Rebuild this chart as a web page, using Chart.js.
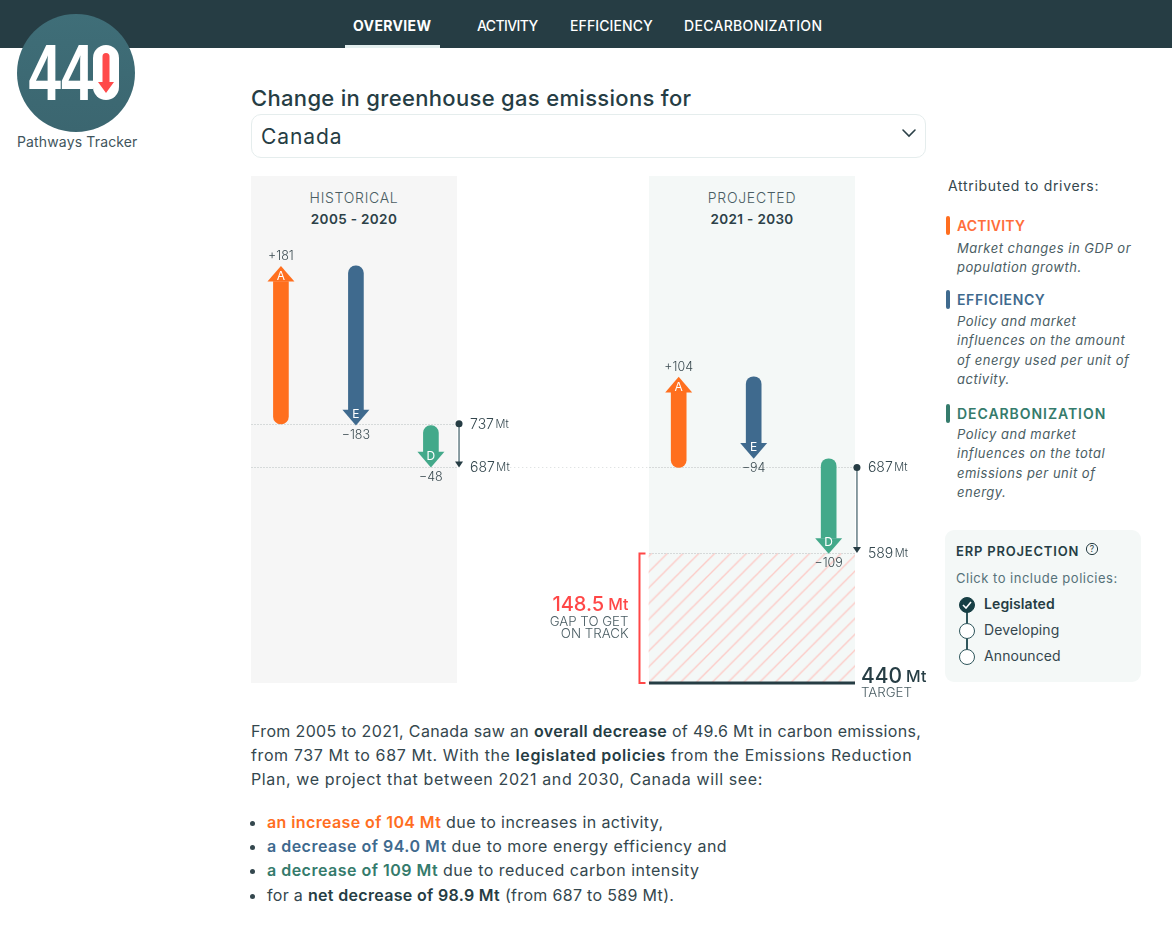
<!DOCTYPE html>
<html>
<head>
<meta charset="utf-8">
<title>440 Pathways Tracker</title>
<script src="https://cdn.jsdelivr.net/npm/chart.js@4"></script>
<style>
  html, body { margin: 0; padding: 0; background: #fff; }
  body { width: 1172px; height: 930px; position: relative; overflow: hidden; font-family: Inter, "Noto Sans", sans-serif; color: #2c4148; }
  .abs { position: absolute; white-space: nowrap; }
  .nav { position: absolute; left: 0; top: 0; width: 1172px; height: 48px; background: #263d44; }
  .nav span { position: absolute; top: 17px; color: #fff; font-size: 14px; line-height: 17px; font-weight: 500; white-space: nowrap; }
  .nav i { position: absolute; left: 345px; top: 45px; width: 95px; height: 3px; background: #e3eeee; }
  .panel { position: absolute; top: 176px; width: 206px; height: 507px; text-align: center; font-size: 14px; line-height: 21px; }
  .panel div { margin-top: 11px; letter-spacing: .7px; color: #4a5d63; font-weight: 300; }
  .panel b { display: block; font-weight: 600; font-size: 13.5px; color: #2c4148; letter-spacing: .35px; padding-top: 1px; }
  .tick { position: absolute; left: 946px; width: 4px; height: 19px; border-radius: 2px; }
  .head { position: absolute; left: 957px; font-size: 14px; line-height: 18px; font-weight: 600; white-space: nowrap; }
  .desc { position: absolute; left: 957px; font-size: 13px; line-height: 19.5px; font-style: italic; color: #4a5d63; white-space: nowrap; letter-spacing: .5px; }
  .erp { position: absolute; left: 945px; top: 530px; width: 196px; height: 152px; background: #f4f8f7; border-radius: 9px; }
  .radio { position: absolute; left: 959px; width: 16px; height: 16px; border: 1.3px solid #2f565c; border-radius: 50%; background: #fff; box-sizing: border-box; }
  .opt { position: absolute; left: 984px; font-size: 14px; line-height: 18px; white-space: nowrap; letter-spacing: .1px; }
  .copy { position: absolute; left: 251px; font-size: 16px; line-height: 24px; white-space: nowrap; color: #34474e; }
  .copy b { font-weight: 600; color: #263d44; }
  ul.copy { top: 810px; margin: 0; padding: 0 0 0 16px; }
  ul.copy li { height: 24px; }
</style>
</head>
<body>

<div class="nav">
  <span style="left:353px;font-weight:700;letter-spacing:.35px">OVERVIEW</span>
  <span style="left:477px;letter-spacing:-.6px">ACTIVITY</span>
  <span style="left:570px;letter-spacing:.1px">EFFICIENCY</span>
  <span style="left:684px;letter-spacing:.3px">DECARBONIZATION</span>
  <i></i>
</div>

<svg class="abs" style="left:17px;top:14px" width="118" height="118" viewBox="0 0 118 118">
  <defs>
    <linearGradient id="logoFill" x1="0" y1="0" x2="0" y2="1">
      <stop offset="0" stop-color="#3f6e78"/>
      <stop offset="1" stop-color="#3b6670"/>
    </linearGradient>
  </defs>
  <circle cx="59" cy="59" r="59" fill="url(#logoFill)"/>
  <text x="11.5" y="86" font-family="'Liberation Sans Narrow','Liberation Sans'" font-weight="700" font-size="79" fill="#fff" textLength="65" lengthAdjust="spacingAndGlyphs">44</text>
  <rect x="76" y="31" width="26" height="55" rx="13" fill="#fff"/>
  <path d="M85.5 42.5 a3.5 3.5 0 0 1 7 0 V68 h4.5 L89 79 L81 68 h4.5 Z" fill="#ff4a4a"/>
</svg>
<div class="abs" style="left:17px;top:133px;font-size:14px;line-height:18px;color:#3f555c;letter-spacing:.15px">Pathways Tracker</div>

<div class="abs" style="left:251px;top:85px;font-size:22px;line-height:27px;font-weight:500;color:#263d44;letter-spacing:.32px">Change in greenhouse gas emissions for</div>
<div class="abs" style="left:251px;top:114px;width:675px;height:44px;box-sizing:border-box;border:1px solid #e5eded;border-radius:10px"></div>
<div class="abs" style="left:261px;top:124px;font-size:21px;line-height:26px;color:#263d44;letter-spacing:.9px">Canada</div>
<svg class="abs" style="left:901px;top:128px" width="16" height="10" viewBox="0 0 16 10"><path d="M2 2 L8 8 L14 2" fill="none" stroke="#2c4148" stroke-width="1.6" stroke-linecap="round"/></svg>

<div class="panel" style="left:251px;background:#f6f6f6"><div>HISTORICAL<b>2005 - 2020</b></div></div>
<div class="panel" style="left:649px;background:#f4f8f7"><div>PROJECTED<b>2021 - 2030</b></div></div>

<canvas id="gapChart" class="abs" style="left:230px;top:176px;width:700px;height:530px"></canvas>

<div class="abs" style="left:948px;top:177px;font-size:14px;line-height:18px;letter-spacing:.7px;color:#34474e">Attributed to drivers:</div>

<div class="tick" style="top:216px;background:#ff6e1f"></div>
<div class="head" style="top:217px;color:#ff6e3a;letter-spacing:.2px">ACTIVITY</div>
<div class="desc" style="top:238.5px">Market changes in GDP or<br>population growth.</div>

<div class="tick" style="top:290px;background:#3f6a8e"></div>
<div class="head" style="top:291px;color:#3f6a8e;letter-spacing:.6px">EFFICIENCY</div>
<div class="desc" style="top:311.5px">Policy and market<br>influences on the amount<br>of energy used per unit of<br>activity.</div>

<div class="tick" style="top:404px;background:#357b6c"></div>
<div class="head" style="top:405px;color:#357b6c;letter-spacing:.95px">DECARBONIZATION</div>
<div class="desc" style="top:424.5px">Policy and market<br>influences on the total<br>emissions per unit of<br>energy.</div>

<div class="erp"></div>
<div class="abs" style="left:956px;top:542px;font-size:13px;line-height:18px;font-weight:600;color:#263d44;letter-spacing:.8px">ERP PROJECTION</div>
<svg class="abs" style="left:1085px;top:542px" width="14" height="14" viewBox="0 0 14 14"><circle cx="7" cy="7" r="5.6" fill="none" stroke="#263d44" stroke-width="1"/><text x="7" y="10" text-anchor="middle" font-size="8.5" font-family="Inter" fill="#263d44">?</text></svg>
<div class="abs" style="left:956px;top:569px;font-size:13px;line-height:18px;color:#56727a;letter-spacing:.5px">Click to include policies:</div>
<div class="abs" style="left:966.3px;top:605px;width:1.5px;height:52px;background:#2f565c"></div>
<div class="radio" style="top:597px;background:#173f45;border-color:#173f45"></div>
<div class="radio" style="top:623px"></div>
<div class="radio" style="top:649px"></div>
<svg class="abs" style="left:962px;top:601px" width="10" height="8" viewBox="0 0 10 8"><path d="M1 4 L4 7 L9 1" fill="none" stroke="#fff" stroke-width="1.6"/></svg>
<div class="opt" style="top:595px;font-weight:600;color:#263d44">Legislated</div>
<div class="opt" style="top:621px;color:#34474e">Developing</div>
<div class="opt" style="top:647px;color:#34474e">Announced</div>

<div class="copy" style="top:719px">
  <span style="letter-spacing:.34px">From 2005 to 2021, Canada saw an <b>overall decrease</b> of 49.6 Mt in carbon emissions,</span><br>
  <span style="letter-spacing:.6px">from 737 Mt to 687 Mt. With the <b>legislated policies</b> from the Emissions Reduction</span><br>
  <span style="letter-spacing:.62px">Plan, we project that between 2021 and 2030, Canada will see:</span>
</div>
<ul class="copy">
  <li style="letter-spacing:.39px"><b style="color:#ff6e1f">an increase of 104 Mt</b> due to increases in activity,</li>
  <li style="letter-spacing:.49px"><b style="color:#3f6a8e">a decrease of 94.0 Mt</b> due to more energy efficiency and</li>
  <li style="letter-spacing:.49px"><b style="color:#357b6c">a decrease of 109 Mt</b> due to reduced carbon intensity</li>
  <li style="letter-spacing:.32px;margin-top:1px">for a <b>net decrease of 98.9 Mt</b> (from 687 to 589 Mt).</li>
</ul>

<script>
// values, in Mt
const drivers = ['Activity', 'Efficiency', 'Decarbonization'];
const letters = ['A', 'E', 'D'];
const startMt = [737, 687];
const endMt = [687, 589];
const activityChange = [181, 104];
const efficiencyChange = [-183, -94];
const decarbChange = [-48, -109];
const targetMt = 440;
const gapMt = 148.5;

const changes = [activityChange, efficiencyChange, decarbChange];
const bodyColors = ['#ff6f1e', '#3f6a8e', '#43a98a'];

// layout of the x axis, one unit is the distance between two arrows
const periodOffset = [0.012, 5.316];
const netArrowX = [2.387, 7.693];
const panelMid = 6.293;
const panelLeft = [-0.387, 4.92];
const panelRight = [2.36, 7.667];
const HEAD_MT = 18;

// walk the waterfall to get tail and tip of each arrow
const arrows = [];
startMt.forEach((start, p) => {
  let running = start;
  changes.forEach((series, d) => {
    arrows.push({ x: periodOffset[p] + d, tail: running, tip: running + series[p], delta: series[p], d });
    running += series[p];
  });
});

function hatchPattern() {
  const c = document.createElement('canvas');
  c.width = 16;
  c.height = 16;
  const g = c.getContext('2d');
  g.strokeStyle = '#fccbc7';
  g.lineWidth = 1.4;
  g.beginPath();
  // diagonals of the tile, shifted so they land where the reference has them
  [-7, 9, 25].forEach(k => {
    g.moveTo(k - 2, 2);
    g.lineTo(k + 18, -18);
    g.moveTo(k - 18, 18);
    g.lineTo(k + 2, -2);
  });
  g.stroke();
  const pattern = g.createPattern(c, 'repeat');
  pattern.setTransform(new DOMMatrix().scale(15.8 / 16));
  return pattern;
}

const driverSets = drivers.map((name, d) => ({
  label: name,
  data: arrows.filter(a => a.d === d).map(a => ({
    x: a.x,
    y: [a.tail, a.tip - Math.sign(a.delta) * HEAD_MT],
  })),
  backgroundColor: bodyColors[d],
  barThickness: 15,
  grouped: false,
  order: 1,
  borderSkipped: false,
  borderRadius: ctx => {
    const up = ctx.raw.y[1] > ctx.raw.y[0];
    return up
      ? { topLeft: 0, topRight: 0, bottomLeft: 7.5, bottomRight: 7.5 }
      : { topLeft: 7.5, topRight: 7.5, bottomLeft: 0, bottomRight: 0 };
  },
}));

const gapSet = {
  label: 'Gap',
  data: [{ x: panelMid, y: [targetMt, targetMt + gapMt] }],
  backgroundColor: hatchPattern(),
  barThickness: 206,
  grouped: false,
  order: 2,
};

function valueUnit(ctx, x, y, value, unit, bigFont, smallFont, color, gap, align) {
  ctx.fillStyle = color;
  ctx.textBaseline = 'middle';
  ctx.font = bigFont;
  const w1 = ctx.measureText(value).width;
  ctx.font = smallFont;
  const w2 = ctx.measureText(unit).width;
  const left = align === 'right' ? x - w1 - w2 - gap : x;
  ctx.textAlign = 'left';
  ctx.font = bigFont;
  ctx.fillText(value, left, y);
  ctx.font = smallFont;
  ctx.fillText(unit, left + w1 + gap, y);
}

function drawRule(chart, a, b, v, dash) {
  const { ctx, scales: { x, y } } = chart;
  const py = Math.round(y.getPixelForValue(v)) + 0.5;
  ctx.save();
  ctx.strokeStyle = '#d6dada';
  ctx.lineWidth = 1;
  ctx.setLineDash(dash);
  ctx.beginPath();
  ctx.moveTo(x.getPixelForValue(a), py);
  ctx.lineTo(x.getPixelForValue(b), py);
  ctx.stroke();
  ctx.restore();
}

const marksPlugin = {
  id: 'marks',
  beforeDatasetsDraw(chart) {
    drawRule(chart, panelLeft[0], panelRight[0], startMt[0], [2, 1]);
    drawRule(chart, panelLeft[0], panelRight[0], endMt[0], [2, 1]);
    drawRule(chart, panelLeft[1], panelRight[1], startMt[1], [2, 1]);
    drawRule(chart, 3.07, panelLeft[1], startMt[1], [1, 3]);
  },
  afterDatasetsDraw(chart) {
    const { ctx, scales: { x, y } } = chart;
    // this one sits on the top edge of the hatched gap
    drawRule(chart, panelLeft[1], panelRight[1], endMt[1], [2, 1]);
    ctx.save();

    // arrow heads, letters and change labels
    arrows.forEach(a => {
      const up = a.delta > 0;
      const px = x.getPixelForValue(a.x);
      const tip = y.getPixelForValue(a.tip);
      const base = y.getPixelForValue(a.tip - Math.sign(a.delta) * HEAD_MT);
      ctx.fillStyle = bodyColors[a.d];
      ctx.beginPath();
      ctx.moveTo(px, tip);
      ctx.lineTo(px - 13.5, base);
      ctx.lineTo(px + 13.5, base);
      ctx.closePath();
      ctx.fill();

      ctx.textAlign = 'center';
      ctx.textBaseline = 'middle';
      ctx.fillStyle = '#fff';
      ctx.font = '12px Inter';
      ctx.fillText(letters[a.d], px, up ? tip + 11 : tip - 11);

      ctx.fillStyle = '#3a4a50';
      ctx.font = '300 12.5px Inter';
      const text = (up ? '+' : '\u2212') + Math.abs(a.delta);
      ctx.fillText(text, px, up ? tip - 9.5 : tip + 9.5);
    });

    // net change arrows at the right of each panel
    const labelBig = '300 14px Inter';
    const labelSmall = '300 11px Inter';
    startMt.forEach((start, p) => {
      const px = x.getPixelForValue(netArrowX[p]);
      const top = y.getPixelForValue(start);
      const tip = y.getPixelForValue(endMt[p]);
      ctx.strokeStyle = '#5a747c';
      ctx.lineWidth = 1.4;
      ctx.beginPath();
      ctx.moveTo(px, top);
      ctx.lineTo(px, tip - 4);
      ctx.stroke();
      ctx.fillStyle = '#263d44';
      ctx.beginPath();
      ctx.arc(px, top, 3.5, 0, Math.PI * 2);
      ctx.fill();
      ctx.beginPath();
      ctx.moveTo(px - 4, tip - 6);
      ctx.lineTo(px + 4, tip - 6);
      ctx.lineTo(px, tip);
      ctx.closePath();
      ctx.fill();

      const lx = px + 11;
      valueUnit(ctx, lx, top + 0.5, String(start), 'Mt', labelBig, labelSmall, '#34474e', 1.5);
      if (p === 0) valueUnit(ctx, lx, tip, String(endMt[p]), 'Mt', labelBig, labelSmall, '#34474e', 1.5);
    });
    const lastX = x.getPixelForValue(netArrowX[1]) + 11;
    valueUnit(ctx, lastX, y.getPixelForValue(endMt[1]) + 0.5, String(endMt[1]), 'Mt', labelBig, labelSmall, '#34474e', 1.5);

    // gap bracket
    const gapTop = y.getPixelForValue(targetMt + gapMt);
    const gapBottom = y.getPixelForValue(targetMt);
    const bx = x.getPixelForValue(panelLeft[1]) - 9.5;
    ctx.strokeStyle = '#ff4747';
    ctx.lineWidth = 2;
    ctx.beginPath();
    ctx.moveTo(bx + 6, gapTop);
    ctx.lineTo(bx, gapTop);
    ctx.lineTo(bx, gapBottom);
    ctx.lineTo(bx + 6, gapBottom);
    ctx.stroke();

    // target line
    ctx.strokeStyle = '#263d44';
    ctx.lineWidth = 3;
    ctx.beginPath();
    ctx.moveTo(x.getPixelForValue(panelLeft[1]), gapBottom);
    ctx.lineTo(x.getPixelForValue(panelRight[1]), gapBottom);
    ctx.stroke();

    const gapMid = y.getPixelForValue(targetMt + gapMt - 57) + 2;
    const gapRight = bx - 11;
    valueUnit(ctx, gapRight, gapMid, String(gapMt), 'Mt', '500 20px Inter', '500 16px Inter', '#ff4747', 4, 'right');
    ctx.fillStyle = '#4a5d63';
    ctx.font = '300 13.3px Inter';
    ctx.textAlign = 'right';
    ctx.fillText('GAP TO GET', gapRight, gapMid + 17);
    ctx.fillText('ON TRACK', gapRight, gapMid + 29);

    const tx = x.getPixelForValue(panelRight[1]) + 6;
    valueUnit(ctx, tx, gapBottom - 6, String(targetMt), 'Mt', '500 21px Inter', '500 16px Inter', '#263d44', 4);
    ctx.fillStyle = '#4a5d63';
    ctx.font = '300 13.3px Inter';
    ctx.textAlign = 'left';
    ctx.fillText('TARGET', tx, gapBottom + 10);

    ctx.restore();
  },
};

new Chart(document.getElementById('gapChart'), {
  type: 'bar',
  data: { datasets: [gapSet, ...driverSets] },
  plugins: [marksPlugin],
  options: {
    responsive: false,
    animation: false,
    events: [],
    layout: { padding: { left: 21, right: 75, top: 0, bottom: 23 } },
    plugins: { legend: { display: false }, tooltip: { enabled: false }, title: { display: false } },
    scales: {
      x: { type: 'linear', display: false, offset: false, min: -0.387, max: 7.667, grid: { display: false } },
      y: { display: false, min: 440, max: 1021, grid: { display: false } },
    },
  },
});
</script>
</body>
</html>
